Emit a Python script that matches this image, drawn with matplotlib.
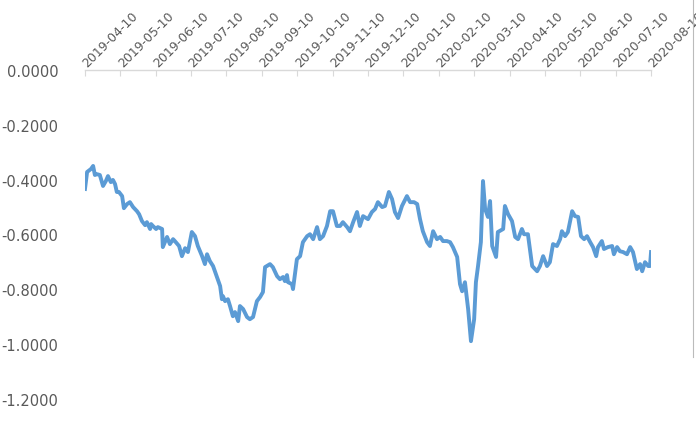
import matplotlib.pyplot as plt
from matplotlib.lines import Line2D

# month labels along the top axis (one tick every ~21 trading days)
month_labels = ['2019-04-10', '2019-05-10', '2019-06-10', '2019-07-10', '2019-08-10',
                '2019-09-10', '2019-10-10', '2019-11-10', '2019-12-10', '2020-01-10',
                '2020-02-10', '2020-03-10', '2020-04-10', '2020-05-10', '2020-06-10',
                '2020-07-10', '2020-08-10']

# position in units of month ticks
pos = [0.00, 0.06, 0.17, 0.23, 0.28, 0.34, 0.42, 0.51, 0.59, 0.65, 0.73, 0.79, 0.85,
       0.90, 0.96, 1.05, 1.10, 1.19, 1.27, 1.36, 1.47, 1.53, 1.61, 1.70, 1.75, 1.84,
       1.87, 1.92, 2.01, 2.06, 2.18, 2.20, 2.32, 2.40, 2.49, 2.54, 2.66, 2.74, 2.83,
       2.91, 3.02, 3.11, 3.19, 3.31, 3.39, 3.45, 3.53, 3.62, 3.73, 3.82, 3.87, 3.90,
       3.96, 4.04, 4.10, 4.18, 4.24, 4.33, 4.38, 4.47, 4.58, 4.66, 4.75, 4.86, 4.95,
       5.03, 5.09, 5.23, 5.31, 5.43, 5.51, 5.60, 5.65, 5.71, 5.74, 5.85, 5.88, 5.99,
       6.08, 6.16, 6.28, 6.36, 6.45, 6.56, 6.64, 6.73, 6.84, 6.93, 7.01, 7.12, 7.21,
       7.29, 7.41, 7.49, 7.58, 7.69, 7.77, 7.86, 8.00, 8.11, 8.20, 8.28, 8.40, 8.48,
       8.59, 8.68, 8.76, 8.85, 8.96, 9.10, 9.19, 9.30, 9.39, 9.47, 9.55, 9.67, 9.75,
       9.84, 9.95, 10.04, 10.12, 10.23, 10.32, 10.40, 10.52, 10.60, 10.66, 10.74,
       10.83, 10.91, 11.00, 11.05, 11.11, 11.19, 11.25, 11.31, 11.39, 11.45, 11.51,
       11.62, 11.67, 11.82, 11.87, 11.96, 12.07, 12.16, 12.24, 12.35, 12.41, 12.52,
       12.64, 12.78, 12.86, 12.95, 13.06, 13.14, 13.23, 13.34, 13.43, 13.48, 13.57,
       13.65, 13.77, 13.85, 13.94, 14.02, 14.11, 14.19, 14.28, 14.36, 14.45, 14.50,
       14.61, 14.67, 14.78, 14.90, 14.95, 15.04, 15.12, 15.21, 15.32, 15.41, 15.49,
       15.60, 15.69, 15.75, 15.83, 15.92, 15.97, 16.00]

values = [-0.434, -0.372, -0.361, -0.350, -0.383, -0.380, -0.383, -0.423, -0.405, -0.387,
          -0.409, -0.401, -0.416, -0.445, -0.445, -0.460, -0.504, -0.489, -0.482, -0.500,
          -0.515, -0.526, -0.551, -0.566, -0.555, -0.580, -0.562, -0.569, -0.580, -0.573,
          -0.580, -0.646, -0.609, -0.635, -0.617, -0.624, -0.642, -0.679, -0.650, -0.664,
          -0.591, -0.606, -0.642, -0.679, -0.708, -0.672, -0.697, -0.715, -0.755, -0.788,
          -0.836, -0.825, -0.843, -0.836, -0.861, -0.898, -0.883, -0.916, -0.861, -0.872,
          -0.901, -0.909, -0.901, -0.843, -0.828, -0.810, -0.719, -0.708, -0.719, -0.752,
          -0.763, -0.755, -0.770, -0.748, -0.774, -0.781, -0.799, -0.690, -0.679, -0.628,
          -0.606, -0.599, -0.617, -0.573, -0.617, -0.606, -0.569, -0.515, -0.515, -0.569,
          -0.569, -0.555, -0.573, -0.588, -0.555, -0.518, -0.569, -0.533, -0.544, -0.518,
          -0.507, -0.482, -0.500, -0.496, -0.445, -0.471, -0.518, -0.540, -0.496, -0.460,
          -0.482, -0.482, -0.489, -0.544, -0.588, -0.628, -0.642, -0.588, -0.617, -0.609,
          -0.624, -0.624, -0.628, -0.646, -0.682, -0.781, -0.807, -0.774, -0.872, -0.989,
          -0.909, -0.774, -0.715, -0.628, -0.405, -0.507, -0.536, -0.478, -0.642, -0.682,
          -0.591, -0.580, -0.496, -0.526, -0.551, -0.609, -0.617, -0.580, -0.599, -0.599,
          -0.715, -0.734, -0.715, -0.679, -0.715, -0.701, -0.635, -0.642, -0.617, -0.588,
          -0.606, -0.591, -0.515, -0.533, -0.536, -0.606, -0.617, -0.606, -0.628, -0.646,
          -0.679, -0.646, -0.624, -0.653, -0.646, -0.642, -0.672, -0.646, -0.661, -0.664,
          -0.672, -0.646, -0.664, -0.726, -0.708, -0.734, -0.701, -0.715, -0.715, -0.664]

yticks = [0.0, -0.2, -0.4, -0.6, -0.8, -1.0, -1.2]
ytick_labels = ['0.0000', '-0.2000', '-0.4000', '-0.6000', '-0.8000', '-1.0000', '-1.2000']

fig = plt.figure(figsize=(6.96, 4.31), dpi=100)
ax = fig.add_axes([0.1221, 0.0719, 0.8133, 0.7634])

ax.plot(pos, values, color='#5B9BD5', lw=2.8, solid_joinstyle='round')

ax.set_xlim(0, 16)
ax.set_ylim(-1.2, 0)

ax.xaxis.tick_top()
ax.set_xticks(range(len(month_labels)))
ax.set_xticklabels(month_labels, rotation=45, ha='left', va='center',
                   rotation_mode='anchor', fontsize=9, color='#595959')
ax.tick_params(axis='x', direction='in', length=4, color='#d9d9d9', pad=4)

ax.set_yticks(yticks)
ax.set_yticklabels(ytick_labels, fontsize=10.5, color='#595959')
ax.tick_params(axis='y', length=0, pad=19)

for s in ['left', 'right', 'bottom']:
    ax.spines[s].set_visible(False)
ax.spines['top'].set_color('#d9d9d9')
ax.spines['top'].set_linewidth(1)

# thin frame line at the right edge of the picture
fig.add_artist(Line2D([0.9957, 0.9957], [0.17, 1.0], color='#bbbbbb', lw=0.8))

fig.savefig('out.png', dpi=100)
